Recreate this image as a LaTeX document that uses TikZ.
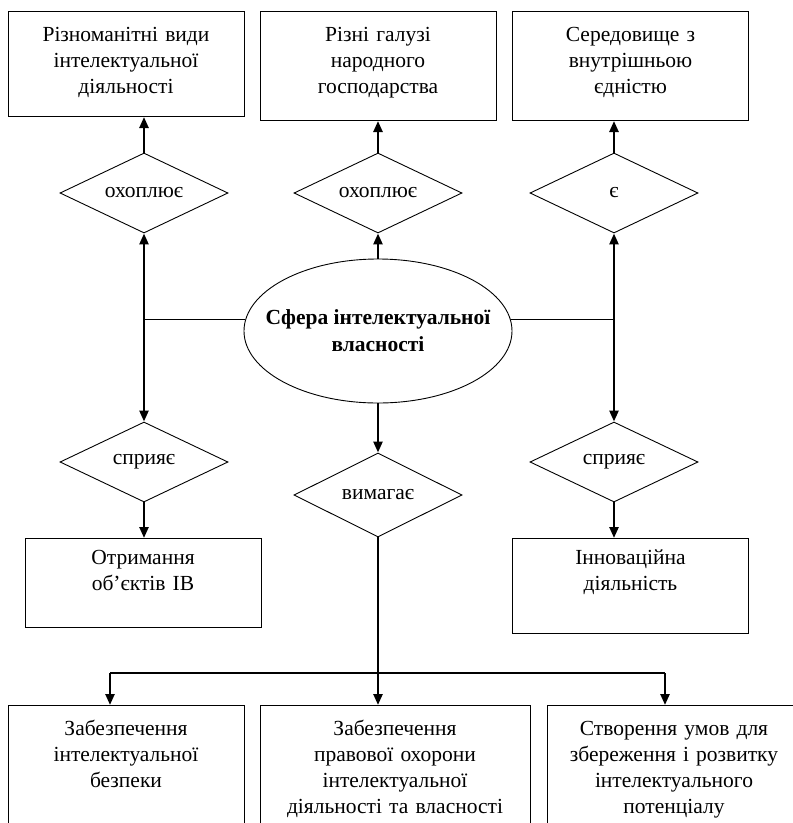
\documentclass[tikz,border=0pt]{standalone}
\usepackage{fontspec}
\setmainfont{Liberation Serif}
\usetikzlibrary{shapes.geometric,arrows.meta}
\begin{document}
\begin{tikzpicture}[x=1pt,y=-1pt]
\tikzstyle{every node}+=[inner sep=0pt,font=\fontsize{21.5}{26}\selectfont]
\tikzstyle{box}=[draw,line width=1pt,anchor=north,align=center,text width=236pt]
\tikzstyle{choice}=[draw,line width=0.9pt,diamond,aspect=2,minimum width=168pt,minimum height=80pt]
\tikzstyle{link}=[line width=2.4pt]
\tikzstyle{thinlink}=[line width=1.2pt]
\tikzstyle{arr}=[link,-{Triangle[length=11pt,width=9pt]}]
\useasboundingbox (0,0) rectangle (793,823);
\clip (0,0) rectangle (793,823);
\node[box,text height=30pt,text depth=75pt] (kinds) at (126,11) {Різноманітні види\\інтелектуальної\\діяльності};
\node[box,text height=30pt,text depth=79pt] (branches) at (378,11) {Різні галузі\\народного\\господарства};
\node[box,text height=30pt,text depth=79pt] (medium) at (630.5,11) {Середовище з\\внутрішньою\\єдністю};
\node[choice] (covers1) at (144,193) {охоплює};
\node[choice] (covers2) at (378,193) {охоплює};
\node[choice] (is) at (614,193) {є};
\node[draw,line width=0.9pt,ellipse,inner xsep=-30pt,minimum width=268pt,minimum height=144pt,align=center,font=\fontsize{21.5}{27}\selectfont\bfseries] (sphere) at (378,331) {Сфера інтелектуальної\\власності};
\node[choice] (helps1) at (144,462) {сприяє};
\node[choice,minimum height=84pt] (needs) at (378,495) {вимагає};
\node[choice] (helps2) at (614,462) {сприяє};
\node[box,text height=26pt,text depth=63pt] (getting) at (143,538) {Отримання\\об’єктів ІВ};
\node[box,text height=26pt,text depth=69pt] (innov) at (630.5,538) {Інноваційна\\діяльність};
\node[box,text height=30pt,text depth=120pt] (safety) at (126,705) {Забезпечення\\інтелектуальної\\безпеки};
\node[box,text width=270pt,text height=30pt,text depth=120pt] (legal) at (395,705) {Забезпечення\\правової охорони\\інтелектуальної\\діяльності та власності};
\node[box,text width=254pt,text height=30pt,text depth=120pt] (cond) at (674,705) {Створення умов для\\збереження і розвитку\\інтелектуального\\потенціалу};
\draw[arr] (covers1.north) -- (covers1.north |- kinds.south);
\draw[arr] (covers2.north) -- (branches.south);
\draw[arr] (is.north) -- (is.north |- medium.south);
\draw[arr] (sphere.north) -- (covers2.south);
\draw[link,{Triangle[length=11pt,width=9pt]}-{Triangle[length=11pt,width=9pt]}] (covers1.south) -- (helps1.north);
\draw[link,{Triangle[length=11pt,width=9pt]}-{Triangle[length=11pt,width=9pt]}] (is.south) -- (helps2.north);
\draw[thinlink] (sphere.175) -- (sphere.175 -| covers1.south);
\draw[thinlink] (sphere.5) -- (sphere.5 -| is.south);
\draw[arr] (sphere.south) -- (needs.north);
\draw[arr] (helps1.south) -- (helps1.south |- getting.north);
\draw[arr] (helps2.south) -- (helps2.south |- innov.north);
\coordinate (split) at (378,673);
\coordinate (splitl) at (110,673);
\coordinate (splitr) at (665,673);
\draw[thinlink] (needs.south) -- (split);
\draw[thinlink] (splitl) -- (splitr);
\draw[arr] (splitl) -- (splitl |- safety.north);
\draw[arr] (split) -- (split |- legal.north);
\draw[arr] (splitr) -- (splitr |- cond.north);
\end{tikzpicture}
\end{document}
